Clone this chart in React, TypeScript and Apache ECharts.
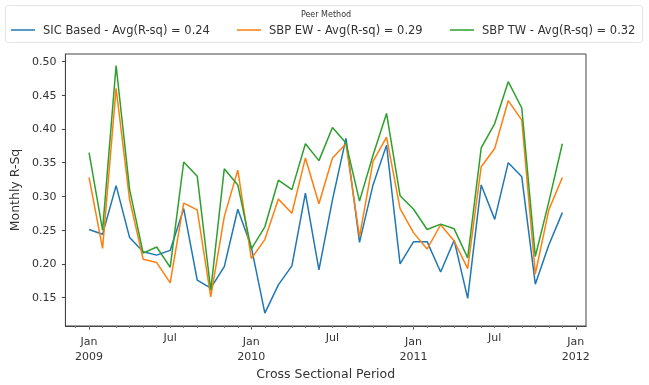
import React, { useEffect, useRef } from "react";
import * as echarts from "echarts";

const startYear = 2009;
const monthCount = 36;

const seriesNames = [
  "SIC Based - Avg(R-sq) = 0.24",
  "SBP EW - Avg(R-sq) = 0.29",
  "SBP TW - Avg(R-sq) = 0.32",
];

const sicBased = [
  0.251, 0.244, 0.316, 0.239, 0.218, 0.213, 0.22, 0.282, 0.176, 0.164, 0.196, 0.281,
  0.225, 0.127, 0.169, 0.197, 0.305, 0.191, 0.295, 0.386, 0.232, 0.317, 0.376, 0.2,
  0.233, 0.233, 0.188, 0.235, 0.149, 0.317, 0.266, 0.35, 0.329, 0.17, 0.228, 0.276,
];
const sbpEW = [
  0.328, 0.223, 0.46, 0.295, 0.207, 0.202, 0.172, 0.29, 0.28, 0.151, 0.27, 0.339,
  0.208, 0.236, 0.296, 0.275, 0.357, 0.289, 0.357, 0.378, 0.24, 0.352, 0.388, 0.282,
  0.246, 0.222, 0.258, 0.234, 0.193, 0.344, 0.371, 0.442, 0.413, 0.185, 0.28, 0.328,
];
const sbpTW = [
  0.365, 0.25, 0.494, 0.31, 0.216, 0.225, 0.195, 0.351, 0.33, 0.161, 0.341, 0.317,
  0.222, 0.255, 0.324, 0.31, 0.378, 0.353, 0.402, 0.379, 0.293, 0.361, 0.423, 0.301,
  0.281, 0.251, 0.259, 0.252, 0.209, 0.372, 0.408, 0.47, 0.431, 0.211, 0.292, 0.378,
];

const colors = ["#1f77b4", "#ff7f0e", "#2ca02c"];
const yTicks = [0.15, 0.2, 0.25, 0.3, 0.35, 0.4, 0.45, 0.5];
const xLabelMonths = [0, 6, 12, 18, 24, 30, 36];
const xMajorMonths = [0, 12, 24, 36];

const FONT = "DejaVu Sans";
const TXT = "#333";
const AXIS = "#444";

export default function App() {
  const ref = useRef<HTMLDivElement>(null);
  useEffect(() => {
    if (!ref.current) return;
    const chart = echarts.init(ref.current, null, { renderer: "svg" });
    const allSeries = [sicBased, sbpEW, sbpTW];
    const minorMonths: number[] = [];
    for (let m = -1; m <= monthCount; m++) minorMonths.push(m);
    const legendLefts = [11, 237, 450];
    chart.setOption({
      animation: false,
      textStyle: { fontFamily: FONT },
      grid: {
        left: 63,
        right: 63,
        top: 54,
        bottom: 59,
        show: true,
        borderColor: AXIS,
        borderWidth: 1,
        backgroundColor: "#fff",
      },
      graphic: [
        {
          type: "rect",
          z: 0,
          shape: { x: 5.5, y: 5.5, width: 637, height: 37, r: 3 },
          style: { fill: "#fff", stroke: "#e3e3e3", lineWidth: 1 },
        },
        {
          type: "text",
          z: 5,
          x: 326,
          y: 14.7,
          style: {
            text: "Peer Method",
            fontFamily: FONT,
            fontSize: 8,
            fill: TXT,
            align: "center",
            verticalAlign: "middle",
          },
        },
      ],
      legend: seriesNames.map((n, i) => ({
        data: [n],
        left: legendLefts[i],
        top: 24,
        icon: "rect",
        itemWidth: 24,
        itemHeight: 1.5,
        padding: 0,
        textStyle: {
          fontFamily: FONT,
          fontSize: 11.5,
          color: TXT,
          padding: [0, 0, 0, 3],
        },
      })),
      xAxis: [
        {
          type: "value",
          min: -1.75,
          max: monthCount - 1 + 1.75,
          splitLine: { show: false },
          axisLine: { show: true, onZero: false, lineStyle: { color: AXIS, width: 1 } },
          axisTick: {
            show: true,
            customValues: xMajorMonths,
            length: 3.5,
            lineStyle: { color: AXIS },
          },
          axisLabel: {
            customValues: xLabelMonths,
            margin: 8.5,
            color: TXT,
            fontFamily: FONT,
            fontSize: 11,
            formatter: (v: number) =>
              v % 12 === 0
                ? `{a|Jan}\n{a|${startYear + v / 12}}`
                : `{b|Jul}`,
            rich: {
              a: { fontFamily: FONT, fontSize: 11, color: TXT, lineHeight: 14.5 },
              b: { fontFamily: FONT, fontSize: 11, color: TXT, lineHeight: 5.7 },
            },
          },
          name: "Cross Sectional Period",
          nameLocation: "middle",
          nameGap: 36,
          nameTextStyle: { fontFamily: FONT, fontSize: 12.5, color: TXT },
        },
        {
          type: "value",
          position: "bottom",
          min: -1.75,
          max: monthCount - 1 + 1.75,
          splitLine: { show: false },
          axisLine: { show: true, onZero: false, lineStyle: { color: AXIS, width: 1 } },
          axisLabel: { show: false },
          axisTick: {
            show: true,
            customValues: minorMonths,
            length: 2,
            lineStyle: { color: "#777" },
          },
        },
      ],
      yAxis: {
        type: "value",
        min: 0.108,
        max: 0.511,
        splitLine: { show: false },
        axisLine: { show: true, onZero: false, lineStyle: { color: AXIS, width: 1 } },
        axisTick: {
          show: true,
          customValues: yTicks,
          length: 3.5,
          lineStyle: { color: AXIS },
        },
        axisLabel: {
          customValues: yTicks,
          margin: 9,
          color: TXT,
          fontFamily: FONT,
          fontSize: 11,
          formatter: (v: number) => v.toFixed(2),
        },
        name: "Monthly R-Sq",
        nameLocation: "middle",
        nameGap: 36,
        nameTextStyle: { fontFamily: FONT, fontSize: 12.5, color: TXT },
      },
      series: allSeries.map((arr, i) => ({
        type: "line",
        name: seriesNames[i],
        xAxisIndex: 0,
        data: arr.map((v, m) => [m, v]),
        symbol: "none",
        lineStyle: { width: 1.5, color: colors[i] },
        itemStyle: { color: colors[i] },
        color: colors[i],
      })),
    });
    return () => chart.dispose();
  }, []);
  return (
    <div
      ref={ref}
      style={{ position: "fixed", left: 0, top: 0, width: 649, height: 385 }}
    />
  );
}
